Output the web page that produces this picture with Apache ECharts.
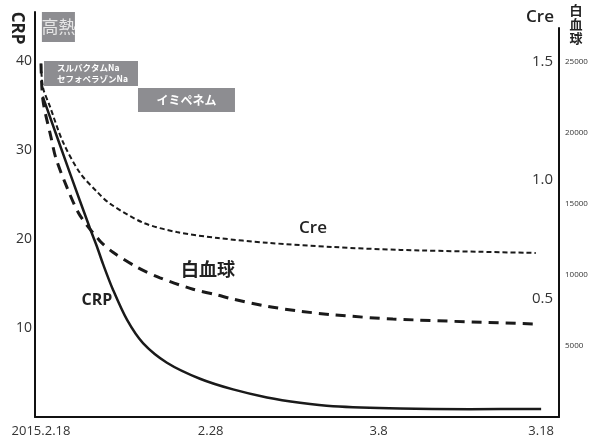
<!DOCTYPE html>
<html>
<head>
<meta charset="utf-8">
<script src="https://cdn.jsdelivr.net/npm/echarts@6/dist/echarts.min.js"></script>
<style>
html,body{margin:0;padding:0;background:#fff;}
#chart{width:593px;height:441px;}
</style>
</head>
<body>
<div id="chart"></div>
<script>
// ---- data (x = days since 2015.2.18, as drawn) ----
const xTickDays = [0, 9.5, 18.9, 28];
const xTickLabels = ['2015.2.18', '2.28', '3.8', '3.18'];

const crpTicks = [10, 20, 30, 40];
const creTicks = [0.5, 1.0, 1.5];
const wbcTicks = [5000, 10000, 15000, 20000, 25000];

const crpDays = [0.1, 1.62, 2.74, 3.14, 3.47, 4.03, 4.82, 5.71, 7.05, 8.9, 10.75, 12.65, 14.5, 16.35, 20.1, 24.0, 28.0];
const crpVals = [36.0, 27.4, 21.2, 19.1, 17.2, 14.3, 10.9, 8.3, 6.1, 4.3, 3.1, 2.2, 1.6, 1.2, 0.95, 0.88, 0.9];

const creDays = [0, 0.11, 0.5, 1.23, 2.18, 3.14, 3.86, 5.71, 7.61, 9.91, 12.65, 16.35, 20.1, 27.7];
const creVals = [1.49, 1.39, 1.31, 1.16, 1.03, 0.95, 0.90, 0.82, 0.78, 0.755, 0.735, 0.717, 0.705, 0.692];

const wbcDays = [0, 0.11, 0.56, 0.84, 1.51, 2.18, 3.3, 4.03, 5.38, 6.66, 8.51, 9.85, 10.75, 12.65, 14.5, 16.35, 19.7, 27.7];
const wbcVals = [24900, 22300, 19700, 18200, 16000, 14200, 12400, 11600, 10550, 9800, 9000, 8600, 8300, 7800, 7450, 7200, 6900, 6550];

const periodNames = ['高熱', 'スルバクタムNa\nセフォペラゾンNa', 'イミペネム'];
const periodStart = [0.05, 0.17, 5.43];
const periodEnd = [1.9, 5.43, 10.86];

// ---- styles ----
const LATIN = "'Open Sans', 'Noto Sans', sans-serif";
const CJK = "'Noto Sans CJK JP', 'Noto Sans', sans-serif";
const rowTop = [12, 61, 88];
const rowHeight = [30, 25, 24];
const rowFont = [
  {fontSize: 17, fontWeight: 'normal', lineHeight: 20, fill: '#e6e6e6'},
  {fontSize: 8.5, fontWeight: 'bold', lineHeight: 11, fill: '#ffffff'},
  {fontSize: 12, fontWeight: 'bold', lineHeight: 14, fill: '#ffffff'}
];

const zip = (a, b) => a.map((v, i) => [v, b[i]]);
const X_MIN = -0.336, X_MAX = 29.0;

const chart = echarts.init(document.getElementById('chart'), null, {renderer: 'canvas'});
const option = {
  animation: false,
  backgroundColor: '#ffffff',
  grid: [
    {left: 35, right: 34, top: 12, bottom: 24},
    {left: 35, right: 34, top: 28, bottom: 24}
  ],
  xAxis: [
    {
      gridIndex: 0, type: 'value', min: X_MIN, max: X_MAX,
      axisLine: {show: true, onZero: false, lineStyle: {color: '#111', width: 2}},
      axisTick: {show: false}, splitLine: {show: false},
      axisLabel: {
        customValues: xTickDays,
        formatter: function (v) {
          let best = 0;
          xTickDays.forEach((d, i) => { if (Math.abs(d - v) < Math.abs(xTickDays[best] - v)) best = i; });
          return xTickLabels[best];
        },
        fontFamily: LATIN, fontSize: 13, color: '#333', margin: 8
      }
    },
    {gridIndex: 1, type: 'value', min: X_MIN, max: X_MAX, show: false}
  ],
  yAxis: [
    {
      gridIndex: 0, type: 'value', min: 0, max: 45.5, position: 'left',
      axisLine: {show: true, onZero: false, lineStyle: {color: '#111', width: 2}},
      axisTick: {show: false}, splitLine: {show: false},
      axisLabel: {customValues: crpTicks, fontFamily: LATIN, fontSize: 14, color: '#333', margin: 3}
    },
    {
      gridIndex: 1, type: 'value', min: 0, max: 1.641, position: 'right',
      axisLine: {show: true, onZero: false, lineStyle: {color: '#111', width: 2}},
      axisTick: {show: false}, splitLine: {show: false},
      axisLabel: {customValues: creTicks, inside: true, formatter: v => v.toFixed(1),
        fontFamily: LATIN, fontSize: 15, color: '#333', margin: 6}
    },
    {
      gridIndex: 1, type: 'value', min: 0, max: 27394, position: 'right',
      axisLine: {show: false}, axisTick: {show: false}, splitLine: {show: false},
      axisLabel: {customValues: wbcTicks, formatter: v => String(v),
        fontFamily: LATIN, fontSize: 8, color: '#333', margin: 6}
    }
  ],
  series: [
    {
      name: 'CRP', type: 'line', xAxisIndex: 0, yAxisIndex: 0,
      data: zip(crpDays, crpVals), symbol: 'none', smooth: 0.3,
      lineStyle: {color: '#1a1a1a', width: 2.5}
    },
    {
      name: 'Cre', type: 'line', xAxisIndex: 1, yAxisIndex: 1,
      data: zip(creDays, creVals), symbol: 'none', smooth: 0.3,
      lineStyle: {color: '#1a1a1a', width: 2, type: [5, 3]}
    },
    {
      name: '白血球', type: 'line', xAxisIndex: 1, yAxisIndex: 2,
      data: zip(wbcDays, wbcVals), symbol: 'none', smooth: 0.3,
      lineStyle: {color: '#1a1a1a', width: 3, type: [10, 7]}
    },
    {
      name: 'periods', type: 'custom', xAxisIndex: 0, yAxisIndex: 0, z: 10, clip: false,
      encode: {x: [0, 1]},
      data: periodStart.map((s, i) => [s, periodEnd[i], i]),
      renderItem: function (params, api) {
        const i = api.value(2);
        const x0 = api.coord([api.value(0), 0])[0];
        const x1 = api.coord([api.value(1), 0])[0];
        const y0 = rowTop[i], h = rowHeight[i];
        const f = rowFont[i];
        const isLeft = i === 1;
        return {
          type: 'group',
          children: [
            {type: 'rect', shape: {x: x0, y: y0, width: x1 - x0, height: h}, style: {fill: '#8d8d91'}},
            {type: 'text', style: {
              text: periodNames[i],
              x: isLeft ? x0 + 13 : (x0 + x1) / 2, y: y0 + h / 2,
              align: isLeft ? 'left' : 'center', verticalAlign: 'middle',
              fontFamily: CJK, fontSize: f.fontSize, fontWeight: f.fontWeight,
              lineHeight: f.lineHeight, fill: f.fill
            }}
          ]
        };
      }
    }
  ],
  graphic: [
    {type: 'text', x: 17, y: 28, rotation: -Math.PI / 2, style: {text: 'CRP', fontFamily: LATIN, fontSize: 17, fontWeight: 'bold', fill: '#222', align: 'center', verticalAlign: 'middle'}},
    {type: 'text', x: 540, y: 17, style: {text: 'Cre', fontFamily: LATIN, fontSize: 17, fontWeight: 600, fill: '#222', align: 'center', verticalAlign: 'middle'}},
    {type: 'text', x: 576, y: 3, style: {text: '白\n血\n球', fontFamily: CJK, fontSize: 13, fontWeight: 'bold', lineHeight: 14, fill: '#222', align: 'center', verticalAlign: 'top'}},
    {type: 'text', x: 313, y: 228, style: {text: 'Cre', fontFamily: LATIN, fontSize: 17, fontWeight: 600, fill: '#222', align: 'center', verticalAlign: 'middle'}},
    {type: 'text', x: 208, y: 269, style: {text: '白血球', fontFamily: CJK, fontSize: 18, fontWeight: 'bold', fill: '#222', align: 'center', verticalAlign: 'middle'}},
    {type: 'text', x: 97, y: 300, style: {text: 'CRP', fontFamily: LATIN, fontSize: 16, fontWeight: 'bold', fill: '#222', align: 'center', verticalAlign: 'middle'}}
  ]
};
chart.setOption(option);
</script>
</body>
</html>
